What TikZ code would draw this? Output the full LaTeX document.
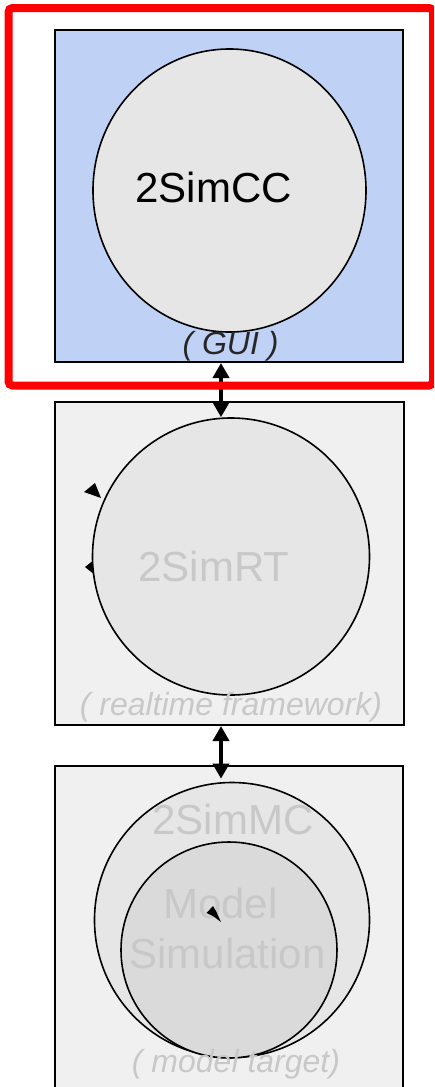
\documentclass[tikz,border=0pt]{standalone}
\usepackage{fontspec}
\setmainfont{Liberation Sans}
\usetikzlibrary{arrows.meta,shapes.geometric}

\definecolor{guiblue}{RGB}{191,210,246}
\definecolor{layergray}{RGB}{240,240,240}
\definecolor{coregray}{RGB}{230,230,230}
\definecolor{modelgray}{RGB}{218,218,218}
\definecolor{fadedtext}{RGB}{200,200,200}

\tikzset{
    layer/.style={draw=black, line width=2pt, inner sep=0pt},
    core/.style={draw=black, line width=1.6pt, fill=coregray, inner sep=0pt},
    bigname/.style={font=\fontsize{42}{48}\selectfont, anchor=base, inner sep=0pt},
    caption/.style={font=\fontsize{32}{38}\selectfont\itshape, anchor=base, inner sep=0pt},
    link/.style={{Triangle[width=16pt,length=15pt]}-{Triangle[width=16pt,length=15pt]}, line width=4pt},
}

\begin{document}
\begin{tikzpicture}[x=1pt,y=-1pt]
    \useasboundingbox (0,0) rectangle (434,1087);
    \clip (0,0) rectangle (434,1087);

    % GUI layer
    \node[layer, fill=guiblue, minimum width=348pt, minimum height=332pt] (guibox) at (229,196) {};
    \node[core, ellipse, minimum width=273pt, minimum height=283pt] (cccircle) at (229.5,190.5) {};
    \node[bigname] (cclabel) at (213.5,202) {2SimCC};
    \node[caption, text=black!85] (guilabel) at (230.5,354) {( GUI )};

    % Realtime layer
    \node[layer, fill=layergray, minimum width=349pt, minimum height=323pt] (rtbox) at (229.5,563.5) {};
    \fill (84,492) -- (95,483) -- (101,498) -- cycle;
    \fill (85,567) -- (95,559) -- (95,575) -- cycle;
    \node[core, circle, minimum size=277pt] (rtcircle) at (231,556.5) {};
    \node[bigname, text=fadedtext] (rtlabel) at (214,581) {2SimRT};
    \node[caption, text=fadedtext] (rtcaption) at (231,715) {( realtime framework)};

    % Model target layer
    \node[layer, fill=layergray, minimum width=348pt, minimum height=360pt, anchor=north] (mcbox) at (229,765) {};
    \node[core, circle, minimum size=275pt] (mccircle) at (232,920) {};
    \node[core, circle, fill=modelgray, minimum size=216pt] (simcircle) at (229,950) {};
    \node[bigname, text=fadedtext] (mclabel) at (233,834) {2SimMC};
    \node[bigname, text=fadedtext] (modellabel) at (220.5,918) {Model};
    \node[bigname, text=fadedtext] (simlabel) at (227.5,968) {Simulation};
    \fill (206.5,913) -- (213,906) -- (216,911) -- (221,922) -- (213,916) -- cycle;
    \node[caption, text=fadedtext] (mccaption) at (236,1072) {( model target)};

    % links between the layers
    \draw[link] ([xshift=-8pt]guibox.south) -- ([xshift=-10pt]rtcircle.north);
    \draw[link, shorten >=3pt] ([xshift=-8.5pt]rtbox.south) -- ([xshift=-11pt]mccircle.north);

    % highlight frame
    \draw[red, line width=8pt, rounded corners=4pt] (8.5,8) rectangle (433,385.5);
\end{tikzpicture}
\end{document}
